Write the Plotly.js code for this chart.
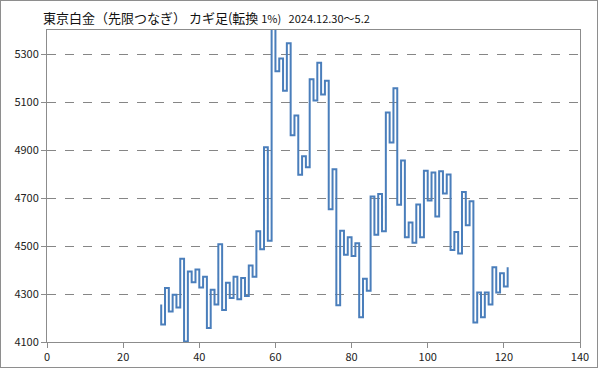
<!DOCTYPE html>
<html>
<head>
<meta charset="utf-8">
<script src="https://cdn.plot.ly/plotly-3.0.1.min.js"></script>
<style>
  html, body { margin: 0; padding: 0; background: #fff; }
  #wrap { position: relative; width: 599px; height: 369px; }
  #chart { width: 599px; height: 369px; }
  #frame { position: absolute; left: 0; top: 0; width: 596px; height: 366px; border: 1px solid #8e8e8e; pointer-events: none; }
</style>
</head>
<body>
<div id="wrap">
  <div id="chart"></div>
  <div id="frame"></div>
</div>
<script>
// Kagi chart data: first vertical at x = startIndex
const startIndex = 30;
// Turning-point prices (start price followed by each reversal level)
const turnPrices = [
  4256, 4173, 4325, 4227, 4297, 4244, 4447, 4102, 4394, 4349,
  4402, 4327, 4372, 4158, 4318, 4256, 4507, 4233, 4347, 4283,
  4372, 4278, 4367, 4292, 4419, 4372, 4561, 4486, 4911, 4522,
  5430, 5228, 5281, 5147, 5345, 4961, 5044, 4797, 4874, 4828,
  5195, 5106, 5264, 5131, 5189, 4653, 4820, 4253, 4564, 4464,
  4536, 4458, 4511, 4203, 4364, 4314, 4706, 4547, 4717, 4561,
  5056, 4931, 5157, 4672, 4856, 4536, 4598, 4514, 4673, 4536,
  4814, 4690, 4806, 4623, 4811, 4719, 4798, 4483, 4558, 4469,
  4725, 4586, 4686, 4181, 4306, 4203, 4306, 4256, 4411, 4306,
  4386, 4331, 4411
];
const yTicks = [4100, 4300, 4500, 4700, 4900, 5100, 5300];
const xTicks = [0, 20, 40, 60, 80, 100, 120, 140];
const titleMain = "東京白金（先限つなぎ）\u00a0カギ足(転換\u00a0";
const titleSub = "1%)\u00a0\u00a0\u00a02024.12.30～5.2";

// Build the kagi path: vertical at each x, 1-unit horizontal between verticals
const px = [], py = [];
for (let i = 0; i < turnPrices.length - 1; i++) {
  const x = startIndex + i;
  px.push(x, x);
  py.push(turnPrices[i], turnPrices[i + 1]);
}

const trace = {
  type: 'scatter', mode: 'lines',
  x: px, y: py,
  line: { color: '#4a7ebb', width: 2 },
  hoverinfo: 'skip', cliponaxis: true
};

const layout = {
  width: 599, height: 369,
  margin: { l: 47, r: 19, t: 30, b: 27, pad: 0 },
  paper_bgcolor: '#fff', plot_bgcolor: '#fff',
  showlegend: false,
  font: { family: 'Noto Sans CJK JP, DejaVu Sans, sans-serif', size: 11, color: '#222' },
  title: {
    text: titleMain + "<span style='font-size:11px'>" + titleSub + "</span>",
    font: { family: 'Noto Sans CJK JP, sans-serif', size: 13, color: '#111' },
    x: 43 / 599, xref: 'container', xanchor: 'left',
    y: 1 - 18 / 369, yref: 'container', yanchor: 'middle'
  },
  xaxis: {
    range: [0, 140], tickvals: xTicks, ticktext: xTicks.map(String),
    showgrid: false, zeroline: false,
    showline: true, linecolor: '#8c8c8c', linewidth: 1, mirror: true,
    ticks: 'outside', ticklen: 5, tickcolor: '#8c8c8c',
    tickfont: { size: 11, color: '#222' }
  },
  yaxis: {
    range: [4100, 5400], tickvals: yTicks, ticktext: yTicks.map(String),
    showgrid: true, gridcolor: '#868686', griddash: 'dash', gridwidth: 1,
    zeroline: false,
    showline: true, linecolor: '#8c8c8c', linewidth: 1, mirror: true,
    ticks: 'outside', ticklen: 5, tickcolor: '#8c8c8c',
    tickfont: { size: 11, color: '#222' }
  }
};

Plotly.newPlot('chart', [trace], layout, { staticPlot: true, displayModeBar: false });
</script>
</body>
</html>
